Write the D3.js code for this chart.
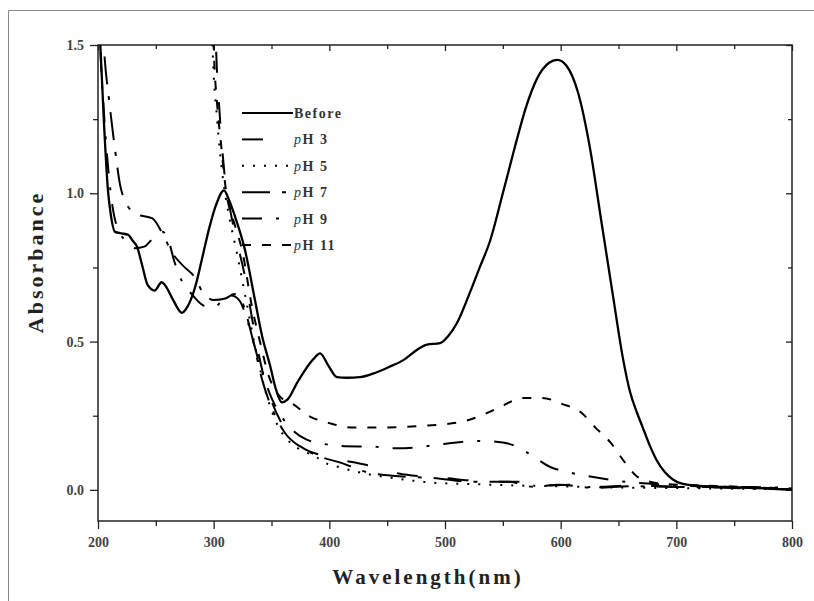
<!DOCTYPE html>
<html>
<head>
<meta charset="utf-8">
<script src="https://cdn.jsdelivr.net/npm/d3@7/dist/d3.min.js"></script>
<style>
body { margin: 0; background: #fff; }
svg text { font-family: "Liberation Serif", "Times New Roman", serif; }
</style>
</head>
<body>
<div class="chart"></div>
<script>
const width = 814,
      height = 601;

// absorbance spectra, [wavelength (nm), absorbance]
const before = [[200,1.62],[202,1.5],[205,1.25],[208.6,1.01],[211,0.93],[214.7,0.87],[220,0.865],[226,0.86],[230,0.84],[233.7,0.82],[238,0.76],[243,0.69],[249,0.672],[255,0.70],[258,0.69],[265,0.64],[272.6,0.597],[277,0.615],[284,0.684],[290,0.78],[296,0.88],[302,0.96],[309,1.01],[313,0.98],[318,0.927],[327,0.81],[335.7,0.64],[341.8,0.52],[348.7,0.42],[354,0.337],[359,0.295],[364,0.305],[372,0.36],[379,0.404],[386,0.44],[392,0.46],[399,0.42],[406.6,0.38],[415,0.378],[426.5,0.38],[440,0.395],[452,0.415],[465,0.44],[475,0.47],[484.4,0.49],[495.7,0.495],[503,0.52],[510,0.56],[522,0.67],[530,0.75],[539,0.84],[550,1.0],[560,1.15],[570,1.29],[580,1.39],[590,1.44],[597,1.45],[605,1.43],[615,1.34],[625,1.16],[635,0.91],[645,0.66],[654,0.44],[660,0.33],[666,0.26],[671,0.21],[677,0.15],[683,0.10],[690,0.06],[697,0.035],[704,0.022],[715,0.015],[740,0.01],[770,0.006],[800,0.0]];
const ph3 = [[301,1.65],[302,1.5],[305,1.28],[309,1.08],[314,0.95],[320,0.84],[327,0.72],[334,0.56],[341,0.42],[350,0.3],[358,0.23],[368,0.17],[380,0.135],[395,0.115],[411,0.1],[425,0.09],[442,0.075],[460,0.055],[480,0.045],[500,0.04],[520,0.032],[545,0.027],[565,0.027],[590,0.015],[610,0.017],[630,0.01],[660,0.015],[690,0.012],[720,0.01],[760,0.008],[800,0.004]];
const ph5 = [[298,1.65],[299,1.5],[303,1.25],[308,1.05],[313,0.93],[320,0.8],[328,0.64],[336,0.48],[345,0.33],[355,0.22],[366,0.16],[378,0.13],[389,0.11],[394.5,0.095],[410,0.075],[425,0.06],[437.7,0.05],[446,0.045],[470,0.032],[489.6,0.024],[520,0.02],[560,0.015],[600,0.012],[650,0.008],[700,0.006],[800,0.002]];
const ph7 = [[203,1.65],[205,1.5],[210,1.3],[215,1.14],[219,1.03],[224,0.97],[233,0.93],[247,0.915],[255,0.87],[264,0.8],[275,0.75],[283,0.72],[290,0.67],[300,0.64],[310,0.645],[318,0.66],[325,0.63],[333,0.52],[342,0.37],[352,0.26],[362,0.19],[375,0.145],[390,0.115],[411,0.09],[432,0.06],[460,0.046],[490,0.04],[524,0.027],[555,0.027],[577,0.01],[598,0.017],[630,0.007],[660,0.012],[700,0.01],[750,0.006],[800,0.002]];
const ph9 = [[201,1.65],[202,1.5],[205,1.28],[208,1.12],[212,0.97],[217,0.88],[224,0.84],[232,0.815],[240,0.82],[248,0.85],[256,0.87],[261,0.84],[266,0.77],[273,0.7],[281,0.66],[292,0.62],[300,0.615],[308,0.64],[315,0.655],[322,0.64],[330,0.56],[340,0.42],[350,0.31],[360,0.24],[370,0.195],[380,0.17],[395,0.155],[410,0.148],[440,0.145],[460,0.14],[490,0.15],[510,0.16],[530,0.165],[550,0.16],[565,0.14],[578,0.108],[591,0.077],[606,0.06],[627,0.044],[650,0.03],[680,0.02],[720,0.012],[800,0.008]];
const ph11 = [[299,1.65],[300,1.5],[303,1.3],[306,1.18],[311,1.0],[317,0.91],[325,0.8],[333,0.62],[340,0.5],[348,0.38],[356,0.32],[362,0.3],[368,0.29],[382,0.25],[400,0.225],[420,0.21],[443,0.21],[477,0.215],[495,0.22],[515,0.23],[531,0.25],[548,0.28],[567,0.31],[584,0.31],[601,0.29],[618,0.26],[630,0.21],[643,0.16],[655,0.095],[666,0.045],[675,0.03],[690,0.02],[720,0.015],[760,0.01],[800,0.005]];

const seriesNames = ["Before", "pH 3", "pH 5", "pH 7", "pH 9", "pH 11"];
const seriesData = [before, ph3, ph5, ph7, ph9, ph11];

const xTicks = [200, 300, 400, 500, 600, 700, 800];
const xMinor = [250, 350, 450, 550, 650, 750];
const yTicks = [0, 0.5, 1.0, 1.5];
const yMinor = [0.25, 0.75, 1.25];

// line styles, same order as seriesNames
const dashes = [null, "21,30", "2,9", "28,12,4,12", "20,14,3,14", "9,11"];

const plot = {left: 98, top: 45, right: 792, bottom: 521};

const svg = d3.select(".chart")
              .append("svg")
              .attr("width", width)
              .attr("height", height);

// outer frame of the picture (top and left only)
svg.append("line").attr("x1", 8.5).attr("x2", width).attr("y1", 10.5).attr("y2", 10.5)
   .attr("stroke", "#888").attr("stroke-width", 1);
svg.append("line").attr("x1", 8.5).attr("x2", 8.5).attr("y1", 10.5).attr("y2", height)
   .attr("stroke", "#888").attr("stroke-width", 1);

const x = d3.scaleLinear().domain([200, 800]).range([plot.left, plot.right]);
const y = d3.scaleLinear().domain([-0.105, 1.5]).range([plot.bottom, plot.top]);

svg.append("clipPath").attr("id", "clip")
   .append("rect")
   .attr("x", plot.left).attr("y", plot.top)
   .attr("width", plot.right - plot.left).attr("height", plot.bottom - plot.top);

// axes
function styleAxis(g) {
    g.select(".domain").remove();
    g.selectAll("line").attr("stroke", "#222").attr("stroke-width", 1.3);
    g.selectAll("text").attr("fill", "#444").attr("font-size", 14).attr("font-weight", "bold")
     .style("font-family", "'Liberation Serif', serif");
}

svg.append("g").attr("transform", "translate(0," + plot.bottom + ")")
   .call(d3.axisBottom(x).tickValues(xTicks).tickSize(8).tickPadding(8).tickFormat(d3.format("d")))
   .call(styleAxis);
svg.append("g").attr("transform", "translate(0," + plot.bottom + ")")
   .call(d3.axisBottom(x).tickValues(xMinor).tickSize(5).tickFormat(""))
   .call(styleAxis);
svg.append("g").attr("transform", "translate(0," + plot.top + ")")
   .call(d3.axisBottom(x).tickValues(xTicks).tickSize(6).tickFormat(""))
   .call(styleAxis);
svg.append("g").attr("transform", "translate(0," + plot.top + ")")
   .call(d3.axisBottom(x).tickValues(xMinor).tickSize(4).tickFormat(""))
   .call(styleAxis);

svg.append("g").attr("transform", "translate(" + plot.left + ",0)")
   .call(d3.axisLeft(y).tickValues(yTicks).tickSize(8).tickPadding(6).tickFormat(d3.format(".1f")))
   .call(styleAxis);
svg.append("g").attr("transform", "translate(" + plot.left + ",0)")
   .call(d3.axisLeft(y).tickValues(yMinor).tickSize(5).tickFormat(""))
   .call(styleAxis);
svg.append("g").attr("transform", "translate(" + plot.right + ",0)")
   .call(d3.axisLeft(y).tickValues(yTicks).tickSize(6).tickFormat(""))
   .call(styleAxis);
svg.append("g").attr("transform", "translate(" + plot.right + ",0)")
   .call(d3.axisLeft(y).tickValues(yMinor).tickSize(4).tickFormat(""))
   .call(styleAxis);

// frame
svg.append("rect")
   .attr("x", plot.left).attr("y", plot.top)
   .attr("width", plot.right - plot.left).attr("height", plot.bottom - plot.top)
   .attr("fill", "none").attr("stroke", "#222").attr("stroke-width", 1.5);

// curves
const line = d3.line()
               .x(d => x(d[0]))
               .y(d => y(d[1]))
               .curve(d3.curveMonotoneX);

svg.append("g").attr("clip-path", "url(#clip)")
   .selectAll("path")
   .data(seriesData)
   .enter().append("path")
   .attr("d", line)
   .attr("fill", "none")
   .attr("stroke", "#000")
   .attr("stroke-width", (d, i) => i == 0 ? 2.3 : 2)
   .attr("stroke-dasharray", (d, i) => dashes[i]);

// legend
const leg = svg.append("g").classed("legend", true);
seriesNames.forEach(function(name, i) {
    var ly = 113 + i * 26.4;
    leg.append("line")
       .attr("x1", 242).attr("x2", 293).attr("y1", ly).attr("y2", ly)
       .attr("stroke", "#000").attr("stroke-width", 2)
       .attr("stroke-dasharray", dashes[i]);
    var t = leg.append("text")
       .attr("x", 294).attr("y", ly + 5)
       .attr("font-size", 14).attr("font-weight", "bold")
       .attr("letter-spacing", 1.5)
       .attr("fill", "#333");
    if (name.startsWith("pH")) {
        t.append("tspan").attr("font-style", "italic").attr("font-weight", "normal").text("p");
        t.append("tspan").text(name.slice(1));
    } else {
        t.text(name);
    }
});

// axis titles
svg.append("text")
   .attr("x", 428).attr("y", 584)
   .attr("text-anchor", "middle")
   .attr("font-size", 21).attr("font-weight", "bold")
   .attr("letter-spacing", 3)
   .attr("fill", "#222")
   .text("Wavelength(nm)");

svg.append("text")
   .attr("transform", "translate(43,262) rotate(-90)")
   .attr("text-anchor", "middle")
   .attr("font-size", 22).attr("font-weight", "bold")
   .attr("letter-spacing", 3)
   .attr("fill", "#222")
   .text("Absorbance");
</script>
</body>
</html>
